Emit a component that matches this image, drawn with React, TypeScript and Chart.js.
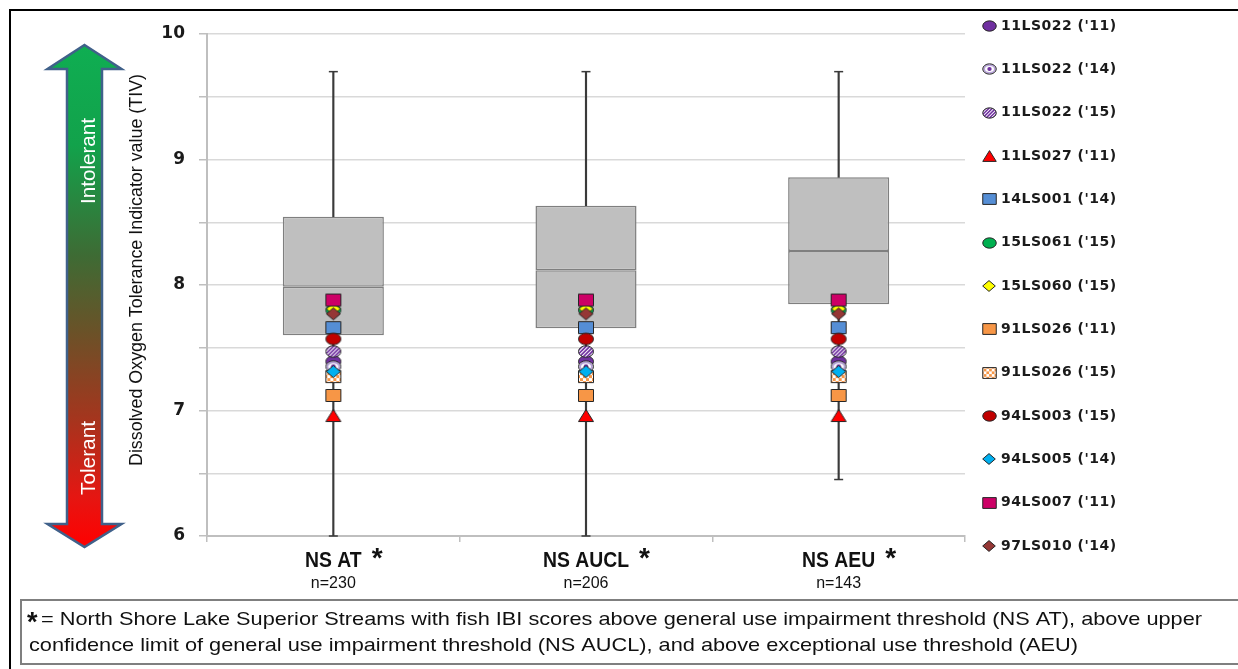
import React, { useEffect, useRef } from 'react';
import { Chart, registerables } from 'chart.js';

Chart.register(...registerables);

// ---------- data ----------
const categories = ['NS AT', 'NS AUCL', 'NS AEU'];
const sampleSizes = ['n=230', 'n=206', 'n=143'];
const whiskerMin = [6.0, 6.0, 6.45];
const quartile1 = [7.6, 7.655, 7.846];
const medianValues = [7.986, 8.117, 8.271];
const quartile3 = [8.544, 8.632, 8.858];
const whiskerMax = [9.7, 9.7, 9.7];

const siteLabels = [
  "11LS022 ('11)",
  "11LS022 ('14)",
  "11LS022 ('15)",
  "11LS027 ('11)",
  "14LS001 ('14)",
  "15LS061 ('15)",
  "15LS060 ('15)",
  "91LS026 ('11)",
  "91LS026 ('15)",
  "94LS003 ('15)",
  "94LS005 ('14)",
  "94LS007 ('11)",
  "97LS010 ('14)",
];
// TIV of each site (same reference value drawn in each category)
const siteTIV = [7.39, 7.35, 7.47, 6.96, 7.66, 7.8, 7.81, 7.12, 7.27, 7.57, 7.31, 7.88, 7.77];

const yMin = 6;
const yMax = 10;
const yStep = 0.5;

const yAxisTitle = 'Dissolved Oxygen Tolerance Indicator value (TIV)';
const arrowTopText = 'Intolerant';
const arrowBottomText = 'Tolerant';
const footnoteStar = '*';
const footnoteLines = [
  '= North Shore Lake Superior Streams with fish IBI scores above general use impairment threshold (NS AT), above upper',
  'confidence limit of general use impairment threshold (NS AUCL), and above exceptional use threshold (AEU)',
];

// ---------- styles ----------
const siteStyles = [
  { shape: 'circle', color: '#7030A0', fill: 'solid' },
  { shape: 'circle', color: '#7030A0', fill: 'ring' },
  { shape: 'circle', color: '#7030A0', fill: 'hatch' },
  { shape: 'triangle', color: '#FF0000', fill: 'solid' },
  { shape: 'square', color: '#558ED5', fill: 'solid' },
  { shape: 'circle', color: '#00B050', fill: 'solid' },
  { shape: 'diamond', color: '#FFFF00', fill: 'solid' },
  { shape: 'square', color: '#F79646', fill: 'solid' },
  { shape: 'square', color: '#F79646', fill: 'checker' },
  { shape: 'circle', color: '#C00000', fill: 'solid' },
  { shape: 'diamond', color: '#00B0F0', fill: 'solid' },
  { shape: 'square', color: '#CC0066', fill: 'solid' },
  { shape: 'diamond', color: '#953735', fill: 'solid' },
];

const SHAPE_SIZE: Record<string, [number, number]> = {
  circle: [15, 11.5],
  square: [15, 12],
  triangle: [15, 12],
  diamond: [14, 12],
};

const W = 1238;
const H = 669;
const PLOT = { left: 207, right: 965, top: 34, bottom: 536 };

function makeMarker(style: any, scale: number) {
  const [bw, bh] = SHAPE_SIZE[style.shape];
  const w = bw * scale;
  const h = bh * scale;
  const cw = Math.ceil(w + 3);
  const ch = Math.ceil(h + 3);
  const c = document.createElement('canvas');
  c.width = cw;
  c.height = ch;
  const g = c.getContext('2d')!;
  const cx = cw / 2;
  const cy = ch / 2;
  const path = () => {
    g.beginPath();
    if (style.shape === 'circle') {
      g.ellipse(cx, cy, w / 2, h / 2, 0, 0, Math.PI * 2);
    } else if (style.shape === 'square') {
      g.rect(cx - w / 2, cy - h / 2, w, h);
    } else if (style.shape === 'triangle') {
      g.moveTo(cx, cy - h / 2);
      g.lineTo(cx + w / 2, cy + h / 2);
      g.lineTo(cx - w / 2, cy + h / 2);
    } else {
      g.moveTo(cx, cy - h / 2);
      g.lineTo(cx + w / 2, cy);
      g.lineTo(cx, cy + h / 2);
      g.lineTo(cx - w / 2, cy);
    }
    g.closePath();
  };
  path();
  if (style.fill === 'solid') {
    g.fillStyle = style.color;
    g.fill();
  } else {
    g.save();
    g.clip();
    g.fillStyle = '#ffffff';
    g.fillRect(0, 0, cw, ch);
    if (style.fill === 'hatch') {
      g.strokeStyle = style.color;
      g.lineWidth = 1.7 * scale;
      for (let k = -ch; k < cw + ch; k += 3.8 * scale) {
        g.beginPath();
        g.moveTo(k, ch);
        g.lineTo(k + ch, 0);
        g.stroke();
      }
    } else if (style.fill === 'checker') {
      const cell = 3 * scale;
      g.fillStyle = style.color;
      for (let i = 0; i * cell < cw; i++) {
        for (let j = 0; j * cell < ch; j++) {
          if ((i + j) % 2 === 0) g.fillRect(i * cell, j * cell, cell, cell);
        }
      }
    } else if (style.fill === 'ring') {
      g.strokeStyle = '#b7a3d8';
      g.lineWidth = 2 * scale;
      g.beginPath();
      g.ellipse(cx, cy, w / 2 - 1.5 * scale, h / 2 - 1.5 * scale, 0, 0, Math.PI * 2);
      g.stroke();
      g.fillStyle = style.color;
      g.beginPath();
      g.ellipse(cx, cy, 2.4 * scale, 2.2 * scale, 0, 0, Math.PI * 2);
      g.fill();
    }
    g.restore();
  }
  path();
  g.strokeStyle = '#262626';
  g.lineWidth = 1;
  g.stroke();
  return c;
}

function drawFitted(
  ctx: CanvasRenderingContext2D,
  text: string,
  x: number,
  y: number,
  width: number,
  font: string,
  color: string,
  align: CanvasTextAlign,
  rotate = 0
) {
  ctx.save();
  ctx.font = font;
  ctx.fillStyle = color;
  ctx.textBaseline = 'middle';
  ctx.textAlign = align;
  const m = ctx.measureText(text).width;
  ctx.translate(x, y);
  if (rotate) ctx.rotate(rotate);
  ctx.scale(width / m, 1);
  ctx.fillText(text, 0, 0);
  ctx.restore();
}

export default function App() {
  const ref = useRef<HTMLCanvasElement>(null);

  useEffect(() => {
    const canvas = ref.current;
    if (!canvas) return;

    const plotMarkers = siteStyles.map((s) => makeMarker(s, 1));
    const legendMarkers = siteStyles.map((s) => makeMarker(s, 0.9));

    const decor = {
      id: 'decor',
      beforeDraw(chart: any) {
        const ctx: CanvasRenderingContext2D = chart.ctx;
        ctx.save();
        ctx.fillStyle = '#ffffff';
        ctx.fillRect(0, 0, chart.width, chart.height);

        // outer frame
        ctx.strokeStyle = '#000000';
        ctx.lineWidth = 2;
        ctx.beginPath();
        ctx.moveTo(10, H + 2);
        ctx.lineTo(10, 10);
        ctx.lineTo(W + 2, 10);
        ctx.stroke();

        // footnote box
        ctx.strokeStyle = '#7f7f7f';
        ctx.lineWidth = 2;
        ctx.beginPath();
        ctx.moveTo(W + 2, 600);
        ctx.lineTo(21, 600);
        ctx.lineTo(21, 664);
        ctx.lineTo(W + 2, 664);
        ctx.stroke();

        // footnote text
        ctx.fillStyle = '#111111';
        ctx.font = 'bold 27px "Liberation Sans"';
        ctx.textAlign = 'left';
        ctx.textBaseline = 'alphabetic';
        ctx.fillText(footnoteStar, 27, 631);
        drawFitted(ctx, footnoteLines[0], 41, 620, 1161, '18.5px "Liberation Sans"', '#111111', 'left');
        drawFitted(ctx, footnoteLines[1], 29, 646, 1049, '18.5px "Liberation Sans"', '#111111', 'left');

        // double arrow
        const cx = 84.5, sw = 17.5, hw = 37, tipT = 45, baseT = 69, baseB = 524, tipB = 547;
        const grad = ctx.createLinearGradient(0, tipT, 0, tipB);
        grad.addColorStop(0, '#0fae52');
        grad.addColorStop(0.2, '#12a24b');
        grad.addColorStop(0.42, '#3e6b34');
        grad.addColorStop(0.57, '#6a5228');
        grad.addColorStop(0.74, '#a3361e');
        grad.addColorStop(0.9, '#e51612');
        grad.addColorStop(1, '#ff0000');
        ctx.beginPath();
        ctx.moveTo(cx, tipT);
        ctx.lineTo(cx + hw, baseT);
        ctx.lineTo(cx + sw, baseT);
        ctx.lineTo(cx + sw, baseB);
        ctx.lineTo(cx + hw, baseB);
        ctx.lineTo(cx, tipB);
        ctx.lineTo(cx - hw, baseB);
        ctx.lineTo(cx - sw, baseB);
        ctx.lineTo(cx - sw, baseT);
        ctx.lineTo(cx - hw, baseT);
        ctx.closePath();
        ctx.fillStyle = grad;
        ctx.fill();
        ctx.strokeStyle = '#40618a';
        ctx.lineWidth = 2.5;
        ctx.lineJoin = 'miter';
        ctx.stroke();

        drawFitted(ctx, arrowTopText, 89, 161, 86, '21px "Liberation Sans"', '#ffffff', 'center', -Math.PI / 2);
        drawFitted(ctx, arrowBottomText, 89, 458, 74, '21px "Liberation Sans"', '#ffffff', 'center', -Math.PI / 2);

        // y axis title
        drawFitted(ctx, yAxisTitle, 137, 270, 392, '17.5px "Liberation Sans"', '#111111', 'center', -Math.PI / 2);
        ctx.restore();
      },
      afterDraw(chart: any) {
        const ctx: CanvasRenderingContext2D = chart.ctx;
        const xs = chart.scales.x;
        ctx.save();
        // category labels
        categories.forEach((cat, i) => {
          const px = xs.getPixelForValue(i);
          ctx.font = 'bold 22px "Liberation Sans"';
          const natural = ctx.measureText(cat).width;
          const lw = natural * 0.88;
          drawFitted(ctx, cat, px, 561, lw, 'bold 22px "Liberation Sans"', '#111111', 'center');
          ctx.font = 'bold 28px "Liberation Sans"';
          ctx.fillStyle = '#111111';
          ctx.textAlign = 'left';
          ctx.textBaseline = 'alphabetic';
          ctx.fillText('*', px + lw / 2 + 10, 567);
          ctx.font = '16px "Liberation Sans"';
          ctx.textAlign = 'center';
          ctx.textBaseline = 'middle';
          ctx.fillText(sampleSizes[i], px, 584);
        });

        // legend
        const legendTop = 26;
        const legendStep = 43.33;
        ctx.font = 'bold 14px "DejaVu Sans"';
        (ctx as any).letterSpacing = '0.5px';
        ctx.fillStyle = '#1a1a1a';
        ctx.textAlign = 'left';
        ctx.textBaseline = 'middle';
        siteLabels.forEach((label, i) => {
          const y = legendTop + i * legendStep;
          const img = legendMarkers[i];
          ctx.drawImage(img, Math.round(989 - img.width / 2), Math.round(y - img.height / 2));
          ctx.fillText(label, 1001, y);
        });
        (ctx as any).letterSpacing = '0px';
        ctx.restore();
      },
    };

    const boxLower = categories.map((_, i) => [quartile1[i], medianValues[i]]);
    const boxUpper = categories.map((_, i) => [medianValues[i], quartile3[i]]);
    const whiskLow = categories.map((_, i) => [whiskerMin[i], quartile1[i]]);
    const whiskHigh = categories.map((_, i) => [quartile3[i], whiskerMax[i]]);

    const markerSets = siteLabels.map((label, i) => ({
      type: 'line',
      label,
      data: categories.map(() => siteTIV[i]),
      showLine: false,
      pointStyle: plotMarkers[i],
      pointRadius: 7,
      pointHoverRadius: 7,
      order: 50 - i,
      clip: false,
    }));

    const boxCommon = {
      type: 'bar',
      backgroundColor: '#BFBFBF',
      borderColor: '#7F7F7F',
      borderWidth: 1.5,
      borderSkipped: false,
      barPercentage: 0.4,
      categoryPercentage: 1,
      grouped: false,
      order: 300,
    };
    const whiskCommon = {
      type: 'bar',
      backgroundColor: '#3a3a3a',
      borderWidth: 0,
      barThickness: 1.5,
      grouped: false,
      order: 200,
    };
    const capCommon = {
      type: 'line',
      showLine: false,
      pointStyle: 'line',
      pointRadius: 4.5,
      pointBorderColor: '#3a3a3a',
      pointBorderWidth: 1.5,
      order: 200,
      clip: false,
    };

    const chart = new Chart(canvas, {
      type: 'bar',
      data: {
        labels: categories,
        datasets: [
          ...markerSets,
          { ...whiskCommon, label: 'lower whisker', data: whiskLow },
          { ...whiskCommon, label: 'upper whisker', data: whiskHigh },
          { ...capCommon, label: 'min', data: whiskerMin },
          { ...capCommon, label: 'max', data: whiskerMax },
          { ...boxCommon, label: 'Q1-median', data: boxLower },
          { ...boxCommon, label: 'median-Q3', data: boxUpper },
        ] as any,
      },
      options: {
        responsive: false,
        maintainAspectRatio: false,
        devicePixelRatio: 1,
        animation: false,
        events: [],
        layout: {
          padding: { left: 0, right: W - PLOT.right, top: PLOT.top, bottom: 0 },
        },
        plugins: {
          legend: { display: false },
          tooltip: { enabled: false },
        },
        scales: {
          x: {
            type: 'category',
            offset: true,
            grid: {
              offset: true,
              drawOnChartArea: false,
              drawTicks: true,
              tickLength: 6,
              color: '#bfbfbf',
              lineWidth: 1.5,
            },
            border: { color: '#bfbfbf', width: 2 },
            ticks: { display: false },
            afterFit: (s: any) => {
              s.height = H - PLOT.bottom;
            },
          },
          y: {
            min: yMin,
            max: yMax,
            ticks: {
              stepSize: yStep,
              autoSkip: false,
              padding: 14,
              color: '#1a1a1a',
              font: { family: 'DejaVu Sans', weight: 'bold', size: 17 },
              callback: (v: any) => (Number.isInteger(Number(v)) ? String(v) : ''),
            },
            grid: {
              color: '#d9d9d9',
              lineWidth: 1.5,
              tickLength: 8,
              tickColor: '#bfbfbf',
            },
            border: { color: '#bfbfbf', width: 2 },
            afterFit: (s: any) => {
              s.width = PLOT.left;
            },
          },
        },
      } as any,
      plugins: [decor],
    });

    return () => chart.destroy();
  }, []);

  return (
    <div style={{ position: 'fixed', left: 0, top: 0, width: W, height: H, background: '#ffffff' }}>
      <canvas ref={ref} width={W} height={H} style={{ display: 'block', width: W, height: H }} />
    </div>
  );
}
